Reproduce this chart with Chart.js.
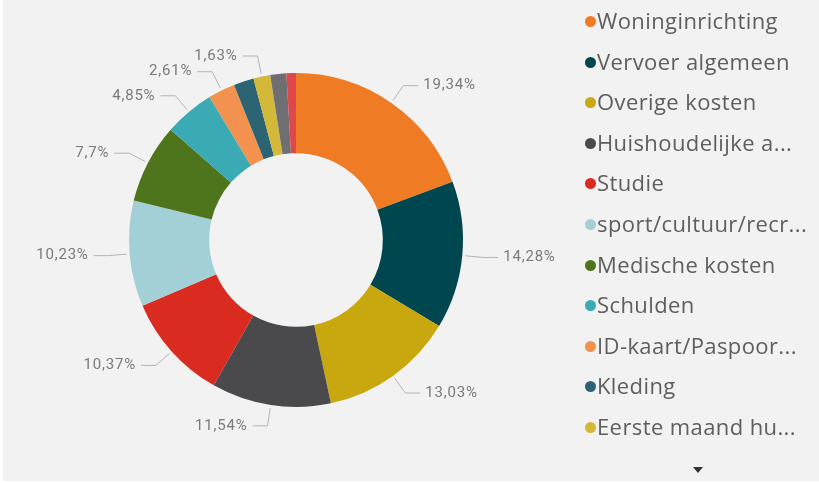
<!DOCTYPE html>
<html lang="nl">
<head>
<meta charset="UTF-8">
<title>Kosten per categorie</title>
<script src="https://cdn.jsdelivr.net/npm/chart.js"></script>
<style>
    body {
        margin: 0;
        background: #fff;
        font-family: 'Open Sans', sans-serif;
    }
    #wrap {
        position: absolute;
        left: 3px;
        top: 0;
        width: 816px;
        height: 481px;
        background: #f2f2f2;
        overflow: hidden;
    }
    #chart {
        position: absolute;
        left: 0;
        top: 0;
    }
    #legend {
        position: absolute;
        left: 582px;
        top: 0;
        width: 234px;
        height: 481px;
    }
    .item {
        position: absolute;
        left: 0;
        height: 30px;
        line-height: 30px;
        font-size: 22px;
        letter-spacing: 0.4px;
        color: #605e5c;
        white-space: nowrap;
    }
    .dot {
        display: inline-block;
        width: 11px;
        height: 11px;
        border-radius: 50%;
        margin-right: 1px;
        vertical-align: 2px;
    }
    #more {
        position: absolute;
        left: 690px;
        top: 467px;
        width: 0;
        height: 0;
        border-left: 5px solid transparent;
        border-right: 5px solid transparent;
        border-top: 6px solid #333;
    }
</style>
</head>
<body>
<div id="wrap">
    <canvas id="chart" width="816" height="481"></canvas>
    <div id="legend"></div>
    <div id="more"></div>
</div>

<script>
    // categories as shown in the legend (last two are scrolled out of view)
    const categories = ['Woninginrichting', 'Vervoer algemeen', 'Overige kosten', 'Huishoudelijke a...',
        'Studie', 'sport/cultuur/recr...', 'Medische kosten', 'Schulden', 'ID-kaart/Paspoor...',
        'Kleding', 'Eerste maand hu...', 'Onbekend 1', 'Onbekend 2'];
    const shares = [19.34, 14.28, 13.03, 11.54, 10.37, 10.23, 7.7, 4.85, 2.61, 1.95, 1.63, 1.55, 0.92];
    const colors = ['#f07b25', '#00464f', '#c9a80f', '#4a4a4c', '#d92b1f', '#a3d0d6', '#4e751b',
        '#3aaab4', '#f3914f', '#2d6473', '#d4b83a', '#6f6f73', '#e0474b'];
    // which slices get a data label in the original
    const showLabel = [true, true, true, true, true, true, true, true, true, false, true, false, false];
    const legendCount = 11;

    function fmt(v) {
        return String(v).replace('.', ',') + '%';
    }

    const labelPlugin = {
        id: 'outerLabels',
        afterDatasetsDraw(chart) {
            const ctx = chart.ctx;
            const arcs = chart.getDatasetMeta(0).data;
            ctx.save();
            ctx.strokeStyle = '#b4b4b4';
            ctx.lineWidth = 1;
            ctx.fillStyle = '#7a7a7a';
            ctx.font = '15px Roboto';
            ctx.letterSpacing = '0.8px';
            ctx.textBaseline = 'middle';
            arcs.forEach((arc, i) => {
                if (!showLabel[i]) return;
                const a = (arc.startAngle + arc.endAngle) / 2;
                const r = arc.outerRadius;
                const cos = Math.cos(a), sin = Math.sin(a);
                const x0 = arc.x + (r + 3) * cos, y0 = arc.y + (r + 3) * sin;
                const x1 = arc.x + (r + 21) * cos, y1 = arc.y + (r + 21) * sin;
                const right = cos >= 0;
                const x2 = x1 + (right ? 15 : -15);
                ctx.beginPath();
                ctx.moveTo(x0, y0);
                ctx.lineTo(x1, y1);
                ctx.lineTo(x2, y1);
                ctx.stroke();
                ctx.textAlign = right ? 'left' : 'right';
                ctx.fillText(fmt(shares[i]), x2 + (right ? 5 : -5), y1);
            });
            ctx.restore();
        }
    };

    const htmlLegend = {
        id: 'htmlLegend',
        afterUpdate(chart) {
            const box = document.getElementById('legend');
            box.innerHTML = '';
            const items = chart.options.plugins.legend.labels.generateLabels(chart);
            items.slice(0, legendCount).forEach((item, i) => {
                const row = document.createElement('div');
                row.className = 'item';
                row.style.top = (5 + i * 40.6) + 'px';
                const dot = document.createElement('span');
                dot.className = 'dot';
                dot.style.background = item.fillStyle;
                row.appendChild(dot);
                row.appendChild(document.createTextNode(item.text));
                box.appendChild(row);
            });
        }
    };

    new Chart(document.getElementById('chart'), {
        type: 'doughnut',
        data: {
            labels: categories,
            datasets: [{
                data: shares,
                backgroundColor: colors,
                borderWidth: 0,
                hoverOffset: 0,
                offset: 0
            }]
        },
        options: {
            responsive: false,
            animation: false,
            cutout: '52%',
            layout: {
                padding: { left: 126, top: 73, right: 356, bottom: 74 }
            },
            plugins: {
                legend: { display: false },
                tooltip: { enabled: false }
            }
        },
        plugins: [labelPlugin, htmlLegend]
    });
</script>
</body>
</html>
